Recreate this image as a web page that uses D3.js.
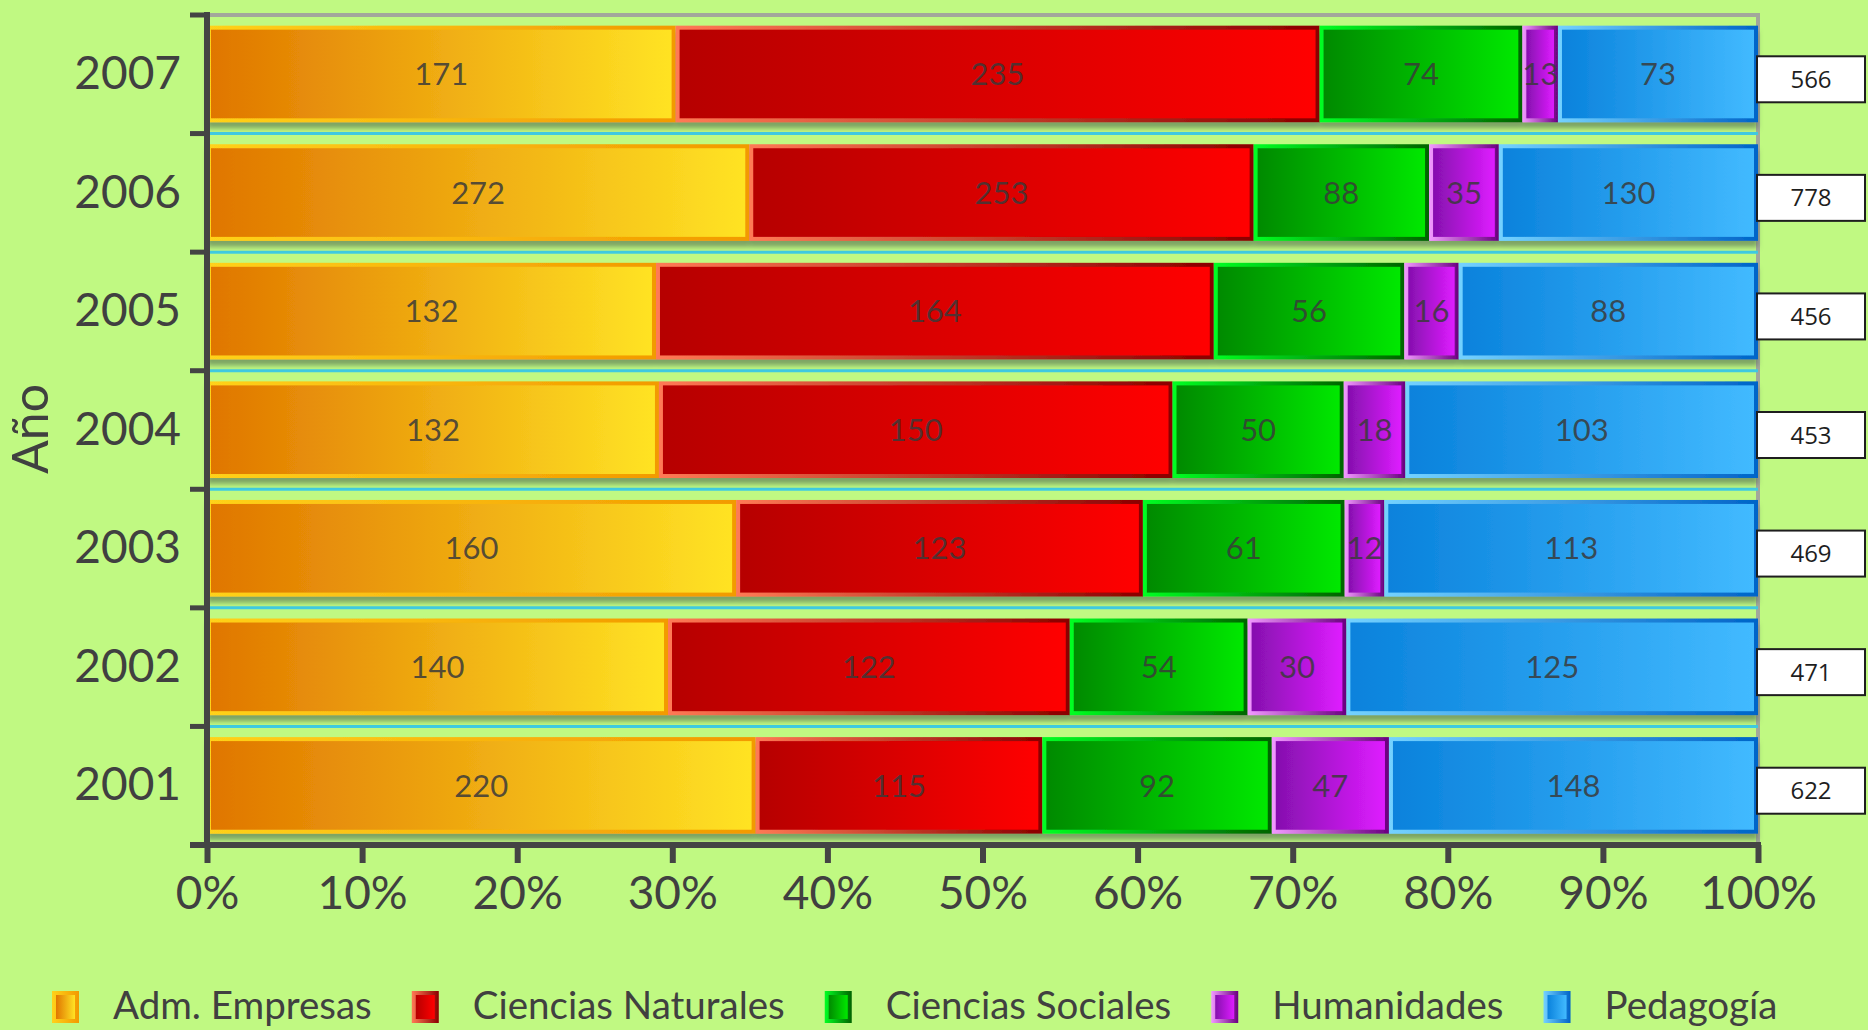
<!DOCTYPE html>
<html>
<head>
<meta charset="utf-8">
<script src="https://cdn.jsdelivr.net/npm/d3@7"></script>
<style>
  html, body { margin: 0; padding: 0; background: #C0F982; }
  svg { display: block; }
</style>
</head>
<body>
<svg id="chart" width="1868" height="1030"></svg>
<script>
// ---- data ----
const years = ["2007", "2006", "2005", "2004", "2003", "2002", "2001"];
const seriesNames = ["Adm. Empresas", "Ciencias Naturales", "Ciencias Sociales", "Humanidades", "Pedagogía"];
const admEmpresas       = [171, 272, 132, 132, 160, 140, 220];
const cienciasNaturales = [235, 253, 164, 150, 123, 122, 115];
const cienciasSociales  = [74, 88, 56, 50, 61, 54, 92];
const humanidades       = [13, 35, 16, 18, 12, 30, 47];
const pedagogia         = [73, 130, 88, 103, 113, 125, 148];
const totals            = [566, 778, 456, 453, 469, 471, 622];
const xTickValues = [0, 0.1, 0.2, 0.3, 0.4, 0.5, 0.6, 0.7, 0.8, 0.9, 1.0];
const yTitle = "Año";

// ---- styles ----
const seriesStyle = [
  { id: "adm", fill: ["#E07600", "#FFE324"], border: ["#FFD21A", "#F29A00"] },
  { id: "nat", fill: ["#B60000", "#FF0000"], border: ["#FF7A55", "#8A0000"] },
  { id: "soc", fill: ["#008A00", "#00E800"], border: ["#00FF22", "#006400"] },
  { id: "hum", fill: ["#8510AE", "#DE1CFF"], border: ["#F29AFF", "#6A0080"] },
  { id: "ped", fill: ["#0A82DC", "#42BAFF"], border: ["#74D2FF", "#0064C8"] }
];
const textColor = "#404040";
const fontMain = "Lato, 'Open Sans', sans-serif";

const svg = d3.select("#chart");
const defs = svg.append("defs");

seriesStyle.forEach(s => {
  [["f", s.fill], ["b", s.border]].forEach(([k, cols]) => {
    const g = defs.append("linearGradient").attr("id", `g-${s.id}-${k}`)
      .attr("x1", "0%").attr("x2", "100%").attr("y1", "0%").attr("y2", "0%");
    g.append("stop").attr("offset", "0%").attr("stop-color", cols[0]);
    g.append("stop").attr("offset", "100%").attr("stop-color", cols[1]);
  });
});
const shadow = defs.append("filter").attr("id", "shadow")
  .attr("x", "-5%").attr("y", "-20%").attr("width", "110%").attr("height", "150%");
shadow.append("feDropShadow").attr("dx", 0).attr("dy", 6).attr("stdDeviation", 2.5)
  .attr("flood-color", "#4f6a50").attr("flood-opacity", 0.6);

// ---- scales ----
const x = d3.scaleLinear().domain([0, 1]).range([207, 1758]);
const y = d3.scaleBand().domain(years).range([15, 845]).paddingInner(0).paddingOuter(0);
const bw = y.bandwidth();
const barTop = bw * 0.09, barH = bw * 0.815;

const valuesBySeries = [admEmpresas, cienciasNaturales, cienciasSociales, humanidades, pedagogia];

// ---- plot frame (top & right gray) ----
svg.append("path")
  .attr("d", `M${x(0)},${y.range()[0]} H${x(1)} V${y.range()[1]}`)
  .attr("fill", "none").attr("stroke", "#A3A79B").attr("stroke-width", 4);

// cyan separator lines between bands
svg.append("g").selectAll("line")
  .data(years.slice(1))
  .join("line")
  .attr("x1", x(0)).attr("x2", x(1))
  .attr("y1", d => y(d)).attr("y2", d => y(d))
  .attr("stroke", "#3FCBE2").attr("stroke-width", 3);

// ---- bars ----
const barsG = svg.append("g");
years.forEach((yr, i) => {
  const total = totals[i];
  let cum = 0;
  const row = barsG.append("g").attr("filter", "url(#shadow)");
  const segs = valuesBySeries.map((vals, si) => {
    const v = vals[i];
    const seg = { si, v, x0: x(cum / total), x1: x((cum + v) / total) };
    cum += v;
    return seg;
  });
  const y0 = y(yr) + barTop;
  segs.forEach(s => {
    const st = seriesStyle[s.si];
    row.append("rect")
      .attr("x", s.x0).attr("y", y0)
      .attr("width", s.x1 - s.x0).attr("height", barH)
      .attr("fill", `url(#g-${st.id}-b)`);
    row.append("rect")
      .attr("x", s.x0 + 4).attr("y", y0 + 4)
      .attr("width", Math.max(0, s.x1 - s.x0 - 8)).attr("height", barH - 8)
      .attr("fill", `url(#g-${st.id}-f)`);
  });
  const labelsG = barsG.append("g");
  segs.forEach(s => {
    labelsG.append("text")
      .attr("x", (s.x0 + s.x1) / 2)
      .attr("y", y0 + barH / 2)
      .attr("dy", "0.36em")
      .attr("text-anchor", "middle")
      .attr("font-family", fontMain)
      .attr("font-size", 31)
      .attr("fill", "#3a3a3a").attr("fill-opacity", 0.85)
      .text(s.v);
  });
});

// ---- totals boxes ----
const totG = svg.append("g");
years.forEach((yr, i) => {
  const cy = y(yr) + bw / 2 + 5;
  totG.append("rect")
    .attr("x", x(1) - 1).attr("y", cy - 23)
    .attr("width", 108).attr("height", 46)
    .attr("fill", "#ffffff").attr("stroke", "#1e1e1e").attr("stroke-width", 2);
  totG.append("text")
    .attr("x", x(1) + 53).attr("y", cy)
    .attr("dy", "0.36em").attr("text-anchor", "middle")
    .attr("font-family", "'Open Sans', 'Noto Sans', sans-serif")
    .attr("font-size", 24).attr("fill", "#1e1e1e")
    .text(totals[i]);
});

// ---- y axis ----
const yAxisG = svg.append("g").attr("transform", `translate(${x(0)},0)`)
  .call(d3.axisLeft(y).tickSize(0).tickPadding(26));
yAxisG.select(".domain").remove();
yAxisG.selectAll("text")
  .attr("font-family", fontMain).attr("font-size", 46).attr("fill", textColor);
// axis line
svg.append("line")
  .attr("x1", x(0)).attr("x2", x(0))
  .attr("y1", y.range()[0] - 3).attr("y2", y.range()[1] + 3)
  .attr("stroke", "#444").attr("stroke-width", 6);
// boundary ticks
const bounds = years.map(d => y(d)).concat([y.range()[1]]);
svg.append("g").selectAll("line")
  .data(bounds)
  .join("line")
  .attr("x1", x(0) - 17).attr("x2", x(0))
  .attr("y1", d => d).attr("y2", d => d)
  .attr("stroke", "#444").attr("stroke-width", 5);

// y title
svg.append("text")
  .attr("transform", `translate(48,429) rotate(-90)`)
  .attr("text-anchor", "middle")
  .attr("font-family", fontMain).attr("font-size", 50).attr("fill", textColor)
  .text(yTitle);

// ---- x axis ----
const xAxisG = svg.append("g").attr("transform", `translate(0,${y.range()[1]})`)
  .call(d3.axisBottom(x).tickValues(xTickValues).tickFormat(d3.format(".0%"))
    .tickSize(18).tickSizeOuter(0).tickPadding(13));
xAxisG.select(".domain").attr("stroke", "#444").attr("stroke-width", 6)
  .attr("d", `M${x(0) - 17},0H${x(1) + 3}`);
xAxisG.selectAll(".tick line").attr("stroke", "#444").attr("stroke-width", 6);
xAxisG.selectAll("text")
  .attr("font-family", fontMain).attr("font-size", 46).attr("fill", textColor);

// ---- legend ----
const legendG = svg.append("g");
let lx = 52;
seriesNames.forEach((name, si) => {
  const st = seriesStyle[si];
  legendG.append("rect").attr("x", lx).attr("y", 991).attr("width", 27).attr("height", 32)
    .attr("fill", `url(#g-${st.id}-b)`);
  legendG.append("rect").attr("x", lx + 4).attr("y", 995).attr("width", 19).attr("height", 24)
    .attr("fill", `url(#g-${st.id}-f)`);
  const t = legendG.append("text")
    .attr("x", lx + 61).attr("y", 1019)
    .attr("font-family", fontMain).attr("font-size", 38.5).attr("fill", textColor)
    .text(name);
  lx = lx + 61 + t.node().getComputedTextLength() + 40;
});
</script>
</body>
</html>
